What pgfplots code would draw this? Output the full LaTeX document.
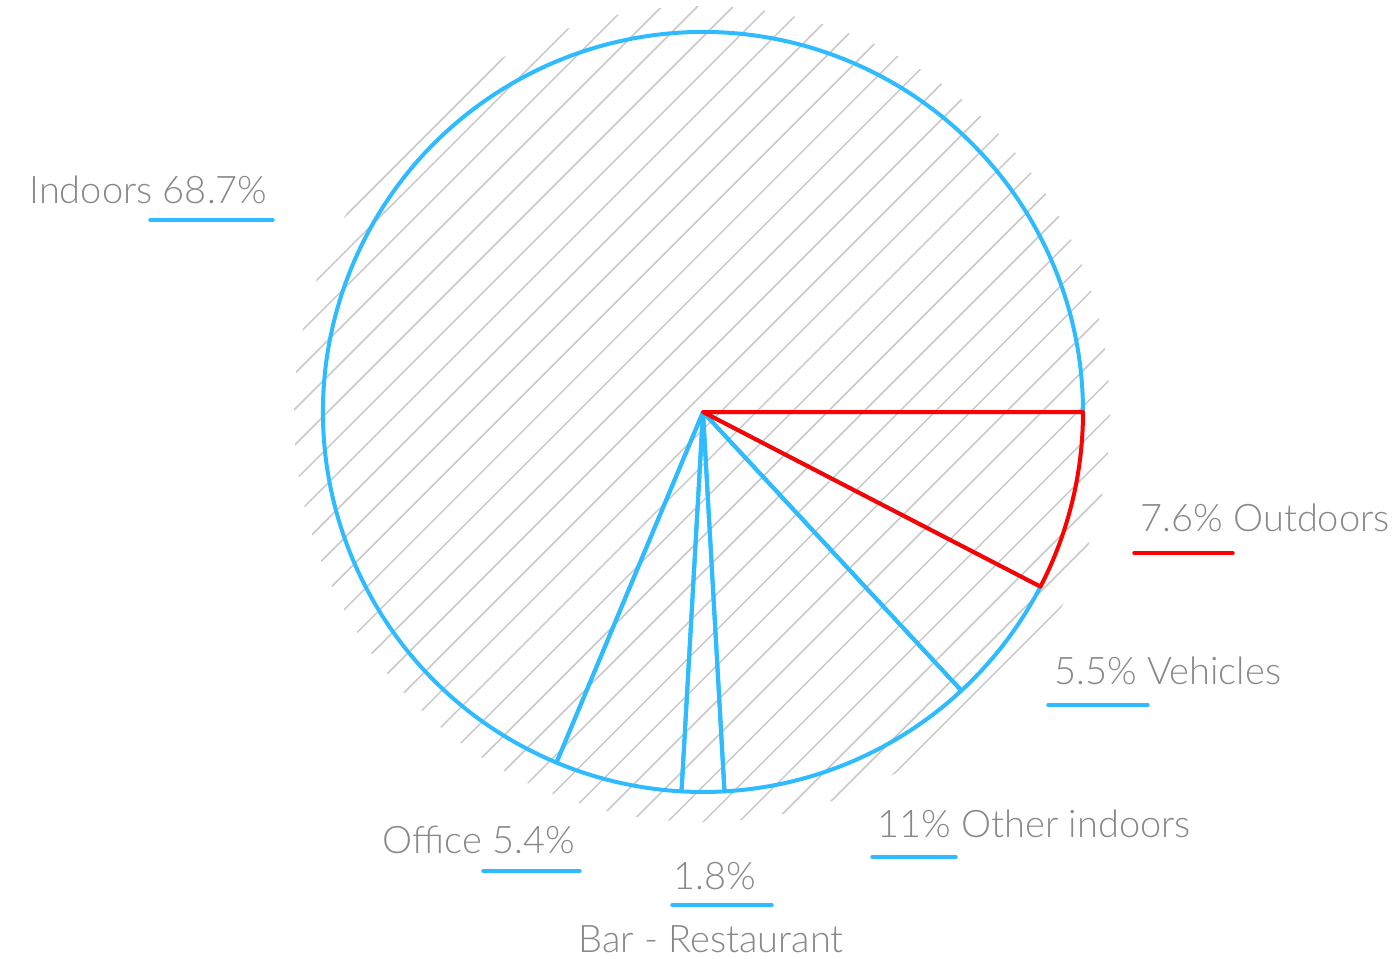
\documentclass[border=0pt]{standalone}
\usepackage{pgfplots}
\pgfplotsset{compat=1.18}
\usepackage{pgfplotstable}
\usepackage{fontspec}
\setmainfont{Lato}[UprightFont={* Light}]
\definecolor{pieblue}{HTML}{2EBBFF}
\definecolor{piered}{HTML}{FF0000}
\definecolor{txtgray}{HTML}{888888}
\definecolor{hatchgray}{HTML}{C8C8C8}

\pgfplotstableread{
label value
Outdoors 7.6
Vehicles 5.5
Other 11
Bar 1.8
Office 5.4
Indoors 68.7
}\piedata

\newcommand\pieslice[3]{%
  \draw[#1, line width=2pt, line join=round]
    (axis cs:703,412) -- (axis cs:{703+380*cos(#2)},{412-380*sin(#2)})
    arc[start angle=#2, end angle=#3, radius=190pt] -- cycle;}
\newcommand\pielab[3]{\node[anchor=base west, inner sep=0pt, text=txtgray,
    font=\fontsize{19}{22}\selectfont] at (axis cs:#1,#2) {#3};}
\newcommand\pieline[4]{\draw[#1, line width=1.7pt, line cap=round]
    (axis cs:#2,#4) -- (axis cs:#3,#4);}

\begin{document}
\begin{tikzpicture}
% cumulative angles (clockwise from 3 o'clock)
\pgfmathsetmacro\angA{0}
\pgfplotstablegetelem{0}{value}\of\piedata \pgfmathsetmacro\angB{\angA-3.6*\pgfplotsretval}
\pgfplotstablegetelem{1}{value}\of\piedata \pgfmathsetmacro\angC{\angB-3.6*\pgfplotsretval}
\pgfplotstablegetelem{2}{value}\of\piedata \pgfmathsetmacro\angD{\angC-3.6*\pgfplotsretval}
\pgfplotstablegetelem{3}{value}\of\piedata \pgfmathsetmacro\angE{\angD-3.6*\pgfplotsretval}
\pgfplotstablegetelem{4}{value}\of\piedata \pgfmathsetmacro\angF{\angE-3.6*\pgfplotsretval}
\pgfplotstablegetelem{5}{value}\of\piedata \pgfmathsetmacro\angG{\angF-3.6*\pgfplotsretval}
\begin{axis}[
  x=0.5pt, y=0.5pt,
  xmin=0, xmax=1399, ymin=0, ymax=959,
  y dir=reverse,
  hide axis, clip=false,
]
\coordinate (bbA) at (axis cs:0,959);
\coordinate (bbB) at (axis cs:1399,0);
% hatching behind the pie
\begin{scope}
  \clip (axis cs:702,414) circle[radius=204pt];
  \pgfplotsinvokeforeach{-5,...,30}{
    \draw[hatchgray, line width=0.75pt] (axis cs:{668.3+35.7*#1+100},-100) -- (axis cs:{668.3+35.7*#1-1100},1100);
  }
\end{scope}
% slices
\pieslice{pieblue}{\angF}{\angG}
\pieslice{pieblue}{\angE}{\angF}
\pieslice{pieblue}{\angD}{\angE}
\pieslice{pieblue}{\angC}{\angD}
\pieslice{pieblue}{\angB}{\angC}
\pieslice{piered}{\angA}{\angB}
% labels
\pielab{29}{203}{Indoors 68.7\%}
\pieline{pieblue}{150}{273}{220}
\pielab{1140}{531}{7.6\% Outdoors}
\pieline{piered}{1134}{1233}{553}
\pielab{1054}{684}{5.5\% Vehicles}
\pieline{pieblue}{1048}{1148}{705}
\pielab{877}{837}{11\% Other indoors}
\pieline{pieblue}{872}{956}{857}
\pielab{382}{853}{Office 5.4\%}
\pieline{pieblue}{483}{580}{871}
\pielab{673}{889}{1.8\%}
\pieline{pieblue}{672}{772}{905}
\pielab{578}{952}{Bar - Restaurant}
\end{axis}
\pgfresetboundingbox
\useasboundingbox (bbA) rectangle (bbB);
\end{tikzpicture}
\end{document}
